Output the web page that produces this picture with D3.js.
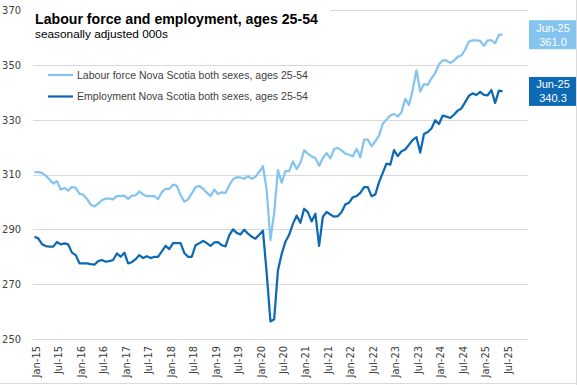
<!DOCTYPE html>
<html>
<head>
<meta charset="utf-8">
<script src="https://cdn.jsdelivr.net/npm/d3@7"></script>
<style>
  html, body { margin: 0; padding: 0; background: #fff; }
  svg { display: block; }
</style>
</head>
<body>
<svg id="chart" width="577" height="385"></svg>
<script>
// ---------------- DATA ----------------
const seriesNames = [
  "Labour force Nova Scotia both sexes, ages 25-54",
  "Employment Nova Scotia both sexes, ages 25-54"
];
// monthly values, Jan-15 .. Jun-25 (thousands, seasonally adjusted)
const labourForce = [
  310.9, 310.9, 310.6, 309.6, 308.2, 306.7, 307.6, 304.5, 305.1, 304.1, 305.5, 305.1,
  302.9, 302.7, 301.1, 299.0, 298.4, 299.4, 300.6, 301.2, 301.2, 300.9, 302.1, 302.1,
  302.3, 301.1, 302.3, 302.4, 303.8, 302.7, 302.1, 302.1, 302.1, 301.0, 303.5, 304.8,
  304.8, 306.3, 305.9, 302.5, 300.1, 300.9, 303.1, 305.4, 305.8, 304.8, 303.4, 302.1,
  304.5, 302.9, 303.5, 303.3, 306.0, 308.3, 309.0, 308.9, 308.4, 309.4, 308.4, 309.2,
  311.0, 313.0, 304.3, 286.1, 296.0, 311.6, 307.0, 311.2, 311.2, 314.8, 312.0, 314.2,
  318.8, 317.6, 316.6, 316.0, 313.2, 316.0, 317.8, 315.9, 319.3, 319.7, 318.8, 317.6,
  317.2, 316.6, 319.3, 316.3, 322.7, 322.7, 320.3, 322.1, 324.2, 328.5, 330.0, 331.5,
  332.1, 331.2, 332.7, 337.6, 335.4, 340.9, 348.0, 340.3, 343.0, 342.7, 345.1, 347.0,
  350.2, 351.6, 351.6, 350.7, 351.5, 352.9, 353.4, 355.6, 358.5, 358.9, 358.9, 358.7,
  356.9, 358.9, 358.9, 357.9, 360.9, 361.0
];
const employment = [
  287.3, 286.7, 284.6, 283.9, 283.7, 283.7, 285.4, 284.5, 284.9, 284.5, 281.5, 280.6,
  277.6, 277.6, 277.6, 277.3, 277.1, 278.4, 278.8, 278.2, 278.4, 278.8, 281.2, 280.0,
  281.5, 277.6, 278.0, 279.1, 280.6, 279.5, 280.2, 279.5, 280.0, 280.0, 282.0, 284.0,
  282.8, 285.0, 285.0, 285.0, 281.4, 280.0, 280.0, 284.2, 284.9, 285.8, 285.0, 284.0,
  285.2, 285.3, 284.2, 283.8, 287.8, 290.0, 288.7, 288.1, 289.9, 288.4, 287.3, 286.6,
  288.0, 289.5, 274.0, 256.4, 257.2, 275.0, 281.0, 285.5, 288.0, 292.0, 295.0, 292.4,
  297.5, 296.3, 292.9, 295.7, 284.0, 294.6, 296.3, 295.4, 294.6, 294.8, 296.3, 299.1,
  299.7, 301.7, 302.1, 303.3, 305.4, 305.4, 302.1, 302.7, 307.2, 310.6, 314.0, 313.6,
  318.9, 316.7, 318.5, 319.1, 320.9, 322.6, 323.6, 318.0, 324.8, 325.5, 326.8, 329.8,
  328.4, 331.5, 331.1, 330.6, 331.8, 333.3, 334.1, 336.4, 338.7, 339.6, 339.0, 340.1,
  339.0, 338.9, 340.8, 336.1, 340.6, 340.3
];
const lastLabel = "Jun-25";
const xTickLabels = [
  "Jan-15","Jul-15","Jan-16","Jul-16","Jan-17","Jul-17","Jan-18","Jul-18",
  "Jan-19","Jul-19","Jan-20","Jul-20","Jan-21","Jul-21","Jan-22","Jul-22",
  "Jan-23","Jul-23","Jan-24","Jul-24","Jan-25","Jul-25"
];
const yTicks = [250, 270, 290, 310, 330, 350, 370];
const titleText = "Labour force and employment, ages 25-54";
const subtitleText = "seasonally adjusted 000s";

// ---------------- LAYOUT / STYLE ----------------
const W = 577, H = 385;
const plotLeft = 33, plotRight = 528;
const colLight = "#84c4ef", colDark = "#0e69b4";
const axisFont = "'Liberation Sans Narrow','Arial Narrow','DejaVu Sans Condensed','Liberation Sans',Arial,sans-serif";
const textFont = "'Liberation Sans',Arial,sans-serif";

const svg = d3.select("#chart");

// axis category domain: Jan-15 .. Dec-25
const fmt = d3.utcFormat("%b-%y");
const months = d3.utcMonths(new Date(Date.UTC(2015, 0, 1)), new Date(Date.UTC(2026, 0, 1))).map(fmt);

const x = d3.scalePoint().domain(months).range([34.5, 34.5 + 3.745 * (months.length - 1)]);
const y = d3.scaleLinear().domain([250, 370]).range([339, 10]);

// border (right & bottom visible)
svg.append("line").attr("x1", W - 0.5).attr("x2", W - 0.5).attr("y1", 0).attr("y2", H)
  .attr("stroke", "#d9d9d9");
svg.append("line").attr("x1", 0).attr("x2", W).attr("y1", H - 1.5).attr("y2", H - 1.5)
  .attr("stroke", "#d9d9d9");

// gridlines
svg.append("g").selectAll("line").data(yTicks).join("line")
  .attr("x1", plotLeft).attr("x2", plotRight)
  .attr("y1", d => Math.round(y(d)) + 0.5).attr("y2", d => Math.round(y(d)) + 0.5)
  .attr("stroke", "#d9d9d9").attr("stroke-width", 1);

// y labels
svg.append("g").selectAll("text").data(yTicks).join("text")
  .attr("x", 21).attr("y", d => y(d)).attr("dy", "0.35em")
  .attr("text-anchor", "end")
  .style("font-family", axisFont).style("font-size", "11px").attr("fill", "#404040")
  .text(d => d);

// x labels
svg.append("g").selectAll("text").data(xTickLabels).join("text")
  .attr("transform", d => `translate(${x(d) + 1.5},346) rotate(-90)`)
  .attr("dy", "0.35em").attr("text-anchor", "end")
  .style("font-family", axisFont).style("font-size", "11px").attr("fill", "#404040")
  .text(d => d);

// lines
const line = d3.line().x((d, i) => x(months[i])).y(d => y(d));
svg.append("path").datum(labourForce).attr("d", line)
  .attr("fill", "none").attr("stroke", colLight).attr("stroke-width", 2.25)
  .attr("stroke-linejoin", "round");
svg.append("path").datum(employment).attr("d", line)
  .attr("fill", "none").attr("stroke", colDark).attr("stroke-width", 2.25)
  .attr("stroke-linejoin", "round");

// title block (white background covers top gridline)
svg.append("rect").attr("x", 30).attr("y", 0).attr("width", 300).attr("height", 44).attr("fill", "#fff");

function fitWidth(sel, target) {
  const fs = parseFloat(sel.style("font-size"));
  const len = sel.node().getComputedTextLength();
  if (len > 0) sel.style("font-size", (fs * target / len).toFixed(2) + "px");
}

const title = svg.append("text").attr("x", 35).attr("y", 24)
  .style("font-family", textFont).style("font-size", "14px").style("font-weight", "bold")
  .attr("fill", "#000").text(titleText);
fitWidth(title, 283);
const subtitle = svg.append("text").attr("x", 35).attr("y", 38)
  .style("font-family", textFont).style("font-size", "12px")
  .attr("fill", "#000").text(subtitleText);
fitWidth(subtitle, 133);

// legend
const legendY = [75, 96.5];
const cols = [colLight, colDark];
seriesNames.forEach((name, i) => {
  svg.append("line").attr("x1", 48).attr("x2", 73).attr("y1", legendY[i]).attr("y2", legendY[i])
    .attr("stroke", cols[i]).attr("stroke-width", 2.25);
  const t = svg.append("text").attr("x", 77).attr("y", legendY[i]).attr("dy", "0.35em")
    .style("font-family", textFont).style("font-size", "11px").attr("fill", "#404040")
    .text(name);
  fitWidth(t, 231);
});

// end labels
const ends = [
  { v: labourForce[labourForce.length - 1], c: colLight },
  { v: employment[employment.length - 1], c: colDark }
];
ends.forEach(e => {
  const cy = y(e.v);
  svg.append("rect").attr("x", 529).attr("y", cy - 14.5).attr("width", 47).attr("height", 29)
    .attr("fill", e.c);
  svg.append("text").attr("x", 553).attr("y", cy - 3).attr("text-anchor", "middle")
    .style("font-family", textFont).style("font-size", "11px").attr("fill", "#fff")
    .text(lastLabel);
  svg.append("text").attr("x", 553).attr("y", cy + 11).attr("text-anchor", "middle")
    .style("font-family", textFont).style("font-size", "11px").attr("fill", "#fff")
    .text(e.v.toFixed(1));
});
</script>
</body>
</html>
